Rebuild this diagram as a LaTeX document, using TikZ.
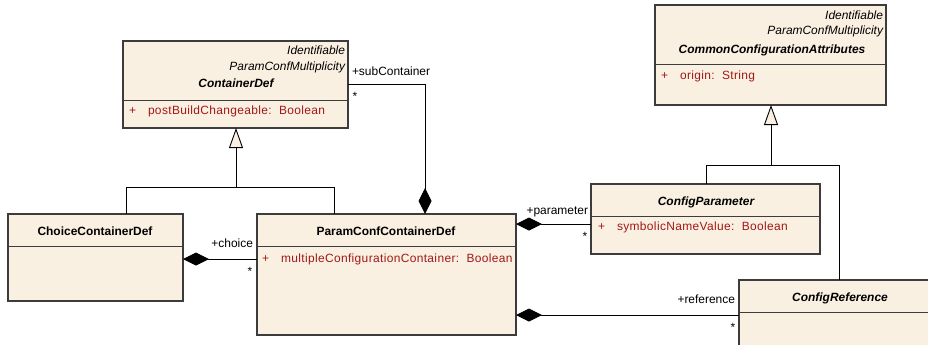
\documentclass[tikz,border=0pt]{standalone}
\usepackage{fontspec}
\setmainfont{Liberation Sans}
\usetikzlibrary{arrows.meta}
\definecolor{classfill}{HTML}{FAF0E1}
\definecolor{attrred}{HTML}{A01818}
\definecolor{edgegray}{HTML}{3C3C3C}

\begin{document}
\begin{tikzpicture}[x=1bp, y=-1bp]
\tikzset{ inner sep=0pt, outer sep=0pt, font=\fontsize{12}{14}\selectfont,
  classbox/.style={draw=edgegray, line width=1.1bp, fill=classfill},
  lbl/.style={text height=8.5bp, text depth=2.5bp},
  attr/.style={lbl, text=attrred, anchor=west,
    font=\fontsize{12}{14}\selectfont\addfontfeature{LetterSpace=3}},
  stereo/.style={lbl, font=\fontsize{12}{14}\selectfont\itshape, anchor=east},
  cname/.style={lbl, font=\fontsize{12}{14}\selectfont\bfseries},
  aname/.style={lbl, font=\fontsize{12}{14}\selectfont\bfseries\itshape},
  link/.style={line width=0.9bp},
  gen/.style={link, -{Triangle[open, length=20bp, width=14bp, fill=classfill]}},
  comp/.style={link, {Diamond[length=26bp, width=13bp]}-},
}

\useasboundingbox (0,0) rectangle (928,344);
\clip (0,0) rectangle (928,344);

%\draw [lightgray, dashed](0,0) grid[step=50] (928,344);

%%% Classes

% ContainerDef
\coordinate (CD0) at (123,41);
\coordinate (CD1) at (348,128);
\draw[classbox] (CD0) rectangle (CD1);
\draw[edgegray] (123,100) -- (348,100);
\node[stereo] (CDst1) at (345,51) {Identifiable};
\node[stereo] (CDst2) at (345,67) {ParamConfMultiplicity};
\node[aname] (CDname) at (236,84) {ContainerDef};
\node[attr] (CDvis) at (129,111) {+};
\node[attr] (CDattr) at (148,111) {postBuildChangeable:\ \ Boolean};

% CommonConfigurationAttributes
\coordinate (CCA0) at (655,5);
\coordinate (CCA1) at (886,105);
\draw[classbox] (CCA0) rectangle (CCA1);
\draw[edgegray] (655,64) -- (886,64);
\node[stereo] (CCAst1) at (883,16) {Identifiable};
\node[stereo] (CCAst2) at (883,31) {ParamConfMultiplicity};
\node[aname] (CCAname) at (772,50) {CommonConfigurationAttributes};
\node[attr] (CCAvis) at (661,76) {+};
\node[attr] (CCAattr) at (680,76) {origin:\ \ String};

% ChoiceContainerDef
\coordinate (CCD0) at (8,214);
\coordinate (CCD1) at (183,301);
\draw[classbox] (CCD0) rectangle (CCD1);
\draw[edgegray] (8,246) -- (183,246);
\node[cname] (CCDname) at (95,232) {ChoiceContainerDef};

% ParamConfContainerDef
\coordinate (PCD0) at (257,214);
\coordinate (PCD1) at (516,335);
\draw[classbox] (PCD0) rectangle (PCD1);
\draw[edgegray] (257,246) -- (516,246);
\node[cname] (PCDname) at (386,232) {ParamConfContainerDef};
\node[attr] (PCDvis) at (262,259) {+};
\node[attr] (PCDattr) at (281,259) {multipleConfigurationContainer:\ \ Boolean};

% ConfigParameter
\coordinate (CP0) at (591,184);
\coordinate (CP1) at (820,254);
\draw[classbox] (CP0) rectangle (CP1);
\draw[edgegray] (591,216) -- (820,216);
\node[aname] (CPname) at (706,202) {ConfigParameter};
\node[attr] (CPvis) at (598,227) {+};
\node[attr] (CPattr) at (617,227) {symbolicNameValue:\ \ Boolean};

% ConfigReference
\coordinate (CR0) at (739,280);
\coordinate (CR1) at (940,360);
\draw[classbox] (CR0) rectangle (CR1);
\draw[edgegray] (739,312) -- (940,312);
\node[aname] (CRname) at (840,298) {ConfigReference};

%%% Lines

% ContainerDef <- ChoiceContainerDef, ParamConfContainerDef
\coordinate (CDgen) at (236,128);
\coordinate (CCDtop) at (126,214);
\coordinate (PCDtop) at (334,214);
\draw[gen] (CCDtop) -- (126,187) -- (236,187) -- (CDgen);
\draw[link] (PCDtop) -- (334,187) -- (236,187);

% CommonConfigurationAttributes <- ConfigParameter, ConfigReference
\coordinate (CCAgen) at (771,105);
\coordinate (CPtop) at (706,184);
\coordinate (CRtop) at (839,280);
\draw[gen] (CPtop) -- (706,165) -- (771,165) -- (CCAgen);
\draw[link] (CRtop) -- (839,165) -- (771,165);

% subContainer
\coordinate (PCDsub) at (425,214);
\coordinate (CDsub) at (348,84);
\draw[comp] (PCDsub) -- (425,84) -- (CDsub);
\node[lbl, anchor=west] (sub) at (352,72) {+subContainer};
\node[lbl] (subm) at (355,97) {*};

% choice
\coordinate (CCDchoice) at (183,259);
\coordinate (PCDchoice) at (257,259);
\draw[comp] (CCDchoice) -- (PCDchoice);
\node[lbl, anchor=east] (choice) at (253,244) {+choice};
\node[lbl] (choicem) at (250,272) {*};

% parameter
\coordinate (PCDpar) at (516,224);
\coordinate (CPpar) at (591,224);
\draw[comp] (PCDpar) -- (CPpar);
\node[lbl, anchor=east] (param) at (588,211) {+parameter};
\node[lbl] (paramm) at (585,237) {*};

% reference
\coordinate (PCDref) at (516,315);
\coordinate (CRref) at (739,315);
\draw[comp] (PCDref) -- (CRref);
\node[lbl, anchor=east] (ref) at (735,300) {+reference};
\node[lbl] (refm) at (733,328) {*};

\end{tikzpicture}
\end{document}
